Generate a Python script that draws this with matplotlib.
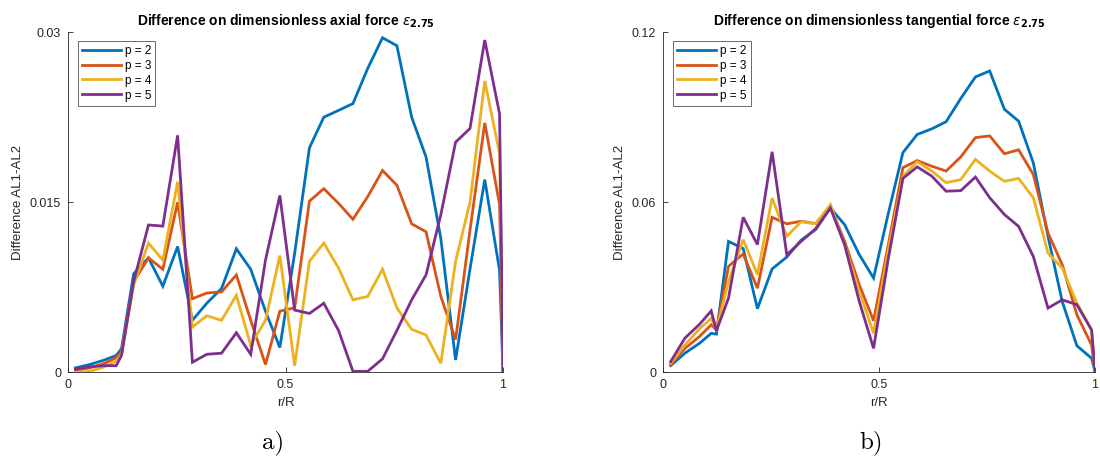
import matplotlib
matplotlib.use("Agg")
import matplotlib.pyplot as plt

# ---------------- data ----------------
r_R = [0.017, 0.050, 0.084, 0.111, 0.123, 0.151, 0.185, 0.218, 0.252, 0.286,
       0.319, 0.353, 0.387, 0.420, 0.454, 0.487, 0.521, 0.555, 0.588, 0.622,
       0.655, 0.689, 0.723, 0.756, 0.790, 0.823, 0.857, 0.891, 0.924, 0.958,
       0.992, 1.000]

labels = ["p = 2", "p = 3", "p = 4", "p = 5"]

axial_p2 = [0.0004, 0.0007, 0.0011, 0.0015, 0.0021, 0.0087, 0.0101, 0.0076, 0.0111, 0.0046,
            0.0061, 0.0074, 0.0109, 0.0091, 0.0054, 0.0022, 0.0105, 0.0198, 0.0225, 0.0231,
            0.0237, 0.0268, 0.0295, 0.0288, 0.0225, 0.0190, 0.0118, 0.0011, 0.0091, 0.0170,
            0.0090, 0.0]
axial_p3 = [0.0002, 0.0004, 0.0008, 0.0013, 0.0018, 0.0080, 0.0101, 0.0091, 0.0150, 0.0065,
            0.0070, 0.0071, 0.0086, 0.0046, 0.0007, 0.0054, 0.0057, 0.0151, 0.0162, 0.0149,
            0.0135, 0.0155, 0.0178, 0.0165, 0.0131, 0.0124, 0.0067, 0.0029, 0.0125, 0.0220,
            0.0148, 0.0]
axial_p4 = [0.0000, 0.0001, 0.0005, 0.0010, 0.0016, 0.0077, 0.0114, 0.0099, 0.0168, 0.0040,
            0.0050, 0.0046, 0.0068, 0.0024, 0.0046, 0.0103, 0.0006, 0.0098, 0.0114, 0.0092,
            0.0064, 0.0067, 0.0091, 0.0057, 0.0038, 0.0033, 0.0008, 0.0098, 0.0150, 0.0257,
            0.0193, 0.0]
axial_p5 = [0.0003, 0.0005, 0.0006, 0.0006, 0.0015, 0.0080, 0.0130, 0.0129, 0.0209, 0.0009,
            0.0016, 0.0017, 0.0035, 0.0016, 0.0099, 0.0156, 0.0055, 0.0052, 0.0061, 0.0037,
            0.0001, 0.0001, 0.0012, 0.0037, 0.0064, 0.0086, 0.0139, 0.0203, 0.0215, 0.0293,
            0.0228, 0.0]

tang_p2 = [0.0024, 0.0068, 0.0103, 0.0138, 0.0135, 0.0462, 0.0437, 0.0225, 0.0365, 0.0407,
           0.0466, 0.0504, 0.0580, 0.0521, 0.0415, 0.0333, 0.0560, 0.0775, 0.0839, 0.0859,
           0.0884, 0.0966, 0.1042, 0.1063, 0.0928, 0.0886, 0.0739, 0.0480, 0.0250, 0.0094,
           0.0050, 0.0003]
tang_p3 = [0.0027, 0.0085, 0.0127, 0.0168, 0.0150, 0.0374, 0.0418, 0.0297, 0.0547, 0.0524,
           0.0533, 0.0525, 0.0586, 0.0462, 0.0309, 0.0182, 0.0450, 0.0722, 0.0747, 0.0727,
           0.0710, 0.0760, 0.0828, 0.0834, 0.0771, 0.0785, 0.0698, 0.0492, 0.0380, 0.0203,
           0.0097, 0.0]
tang_p4 = [0.0032, 0.0097, 0.0154, 0.0191, 0.0150, 0.0320, 0.0468, 0.0345, 0.0615, 0.0480,
           0.0531, 0.0524, 0.0592, 0.0450, 0.0286, 0.0138, 0.0430, 0.0692, 0.0743, 0.0710,
           0.0669, 0.0680, 0.0751, 0.0710, 0.0674, 0.0684, 0.0616, 0.0421, 0.0368, 0.0244,
           0.0150, 0.0]
tang_p5 = [0.0038, 0.0121, 0.0170, 0.0217, 0.0147, 0.0262, 0.0547, 0.0451, 0.0778, 0.0415,
           0.0462, 0.0507, 0.0580, 0.0450, 0.0250, 0.0085, 0.0400, 0.0684, 0.0725, 0.0692,
           0.0639, 0.0641, 0.0689, 0.0616, 0.0557, 0.0515, 0.0409, 0.0227, 0.0256, 0.0239,
           0.0150, 0.0]

colors = ["#0072BD", "#D95319", "#EDB120", "#7E2F8E"]
AX = "#262626"

plt.rcParams["font.family"] = ["Liberation Sans", "DejaVu Sans"]

fig = plt.figure(figsize=(11, 4.65), dpi=100)
ax1 = fig.add_axes([0.0618, 0.199, 0.3955, 0.732])
ax2 = fig.add_axes([0.6030, 0.199, 0.3925, 0.732])


def style(ax, series, ymax, yticks, yticklabels, title):
    for s, c, lab in zip(series, colors, labels):
        ax.plot(r_R, s, color=c, lw=2, label=lab, solid_joinstyle="miter")
    ax.set_xlim(0, 1)
    ax.set_ylim(0, ymax)
    ax.set_xticks([0, 0.5, 1])
    ax.set_xticklabels(["0", "0.5", "1"])
    ax.set_yticks(yticks)
    ax.set_yticklabels(yticklabels)
    for sp in ("top", "right"):
        ax.spines[sp].set_visible(False)
    for sp in ("left", "bottom"):
        ax.spines[sp].set_color(AX)
        ax.spines[sp].set_linewidth(0.6)
    ax.tick_params(direction="in", length=3.5, width=0.6, colors=AX,
                   labelsize=9, pad=5)
    ax.set_xlabel("r/R", fontsize=9.5, color=AX, labelpad=4)
    ax.set_ylabel("Difference AL1-AL2", fontsize=9.5, color=AX, labelpad=4)
    ax.set_title(title, fontsize=10, fontweight="bold", color="black", pad=5)
    leg = ax.legend(loc="upper left", bbox_to_anchor=(0.022, 0.975), fontsize=8.5,
                    frameon=True, fancybox=False, handlelength=3.3,
                    handletextpad=0.35, borderpad=0.35, labelspacing=0.25,
                    borderaxespad=0)
    leg.get_frame().set_edgecolor(AX)
    leg.get_frame().set_linewidth(0.6)


style(ax1, [axial_p2, axial_p3, axial_p4, axial_p5], 0.03,
      [0, 0.015, 0.03], ["0", "0.015", "0.03"],
      r"Difference on dimensionless axial force $\epsilon_{\mathbf{2.75}}$")
style(ax2, [tang_p2, tang_p3, tang_p4, tang_p5], 0.12,
      [0, 0.06, 0.12], ["0", "0.06", "0.12"],
      r"Difference on dimensionless tangential force $\epsilon_{\mathbf{2.75}}$")

fig.text(273 / 1100, 1 - 443 / 465, "a)", fontsize=18, family="cmr10",
         ha="center", va="center")
fig.text(871 / 1100, 1 - 443 / 465, "b)", fontsize=18, family="cmr10",
         ha="center", va="center")

fig.savefig("out.png", dpi=100)
